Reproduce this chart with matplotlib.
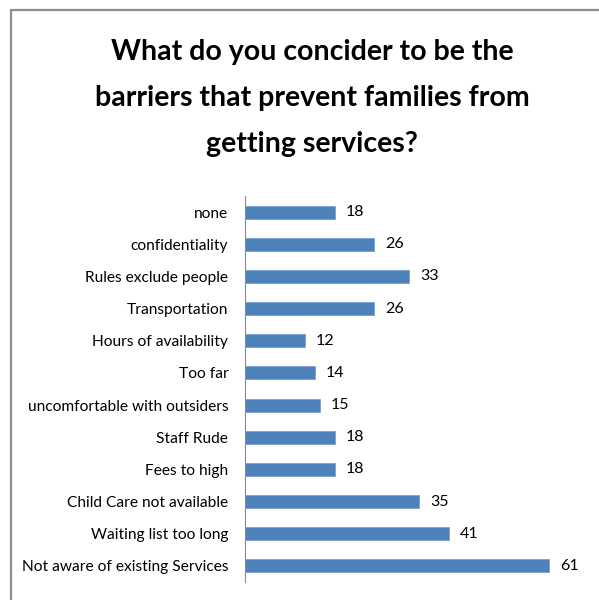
import numpy as np
import matplotlib.pyplot as plt
from matplotlib.patches import Rectangle

# survey answers, top to bottom as listed
categories = ['none', 'confidentiality', 'Rules exclude people', 'Transportation',
              'Hours of availability', 'Too far', 'uncomfortable with outsiders',
              'Staff Rude', 'Fees to high', 'Child Care not available',
              'Waiting list too long', 'Not aware of existing Services']
counts = [18, 26, 33, 26, 12, 14, 15, 18, 18, 35, 41, 61]

title = 'What do you concider to be the\nbarriers that prevent families from\ngetting services?'

plt.rcParams['font.family'] = ['Lato', 'DejaVu Sans']

fig = plt.figure(figsize=(5.99, 6), dpi=100)

# outer chart frame (only top and left edges fall inside the image)
fig.patches.append(Rectangle((11/599, -0.1), 1.2, (600-9.5)/600 + 0.1, transform=fig.transFigure,
                             fill=False, edgecolor='#8c8c8c', linewidth=1.6))

ax = fig.add_axes([245/599, 18/600, 348.6/599, 386/600])
y = np.arange(len(categories))
ax.barh(y, counts, height=0.4, color='#4f81bd', edgecolor='#7aa0d0', linewidth=0.6)
ax.set_ylim(len(categories) - 0.5, -0.5)
ax.set_xlim(0, 70)

ax.set_yticks(y)
ax.set_yticklabels(categories, fontsize=11.2)
ax.tick_params(axis='y', length=0, pad=12)
ax.set_xticks([])

for s in ['top', 'right', 'bottom']:
    ax.spines[s].set_visible(False)
ax.spines['left'].set_color('#8c8c8c')
ax.spines['left'].set_linewidth(0.8)

for yi, c in zip(y, counts):
    ax.annotate(str(c), (c, yi), xytext=(8, 0), textcoords='offset points',
                va='center', ha='left', fontsize=11.5)

fig.text(312/599, 1 - 98/600, title, ha='center', va='center', fontsize=20.5,
         fontweight='bold', linespacing=1.95)

fig.savefig('out.png', dpi=100)
